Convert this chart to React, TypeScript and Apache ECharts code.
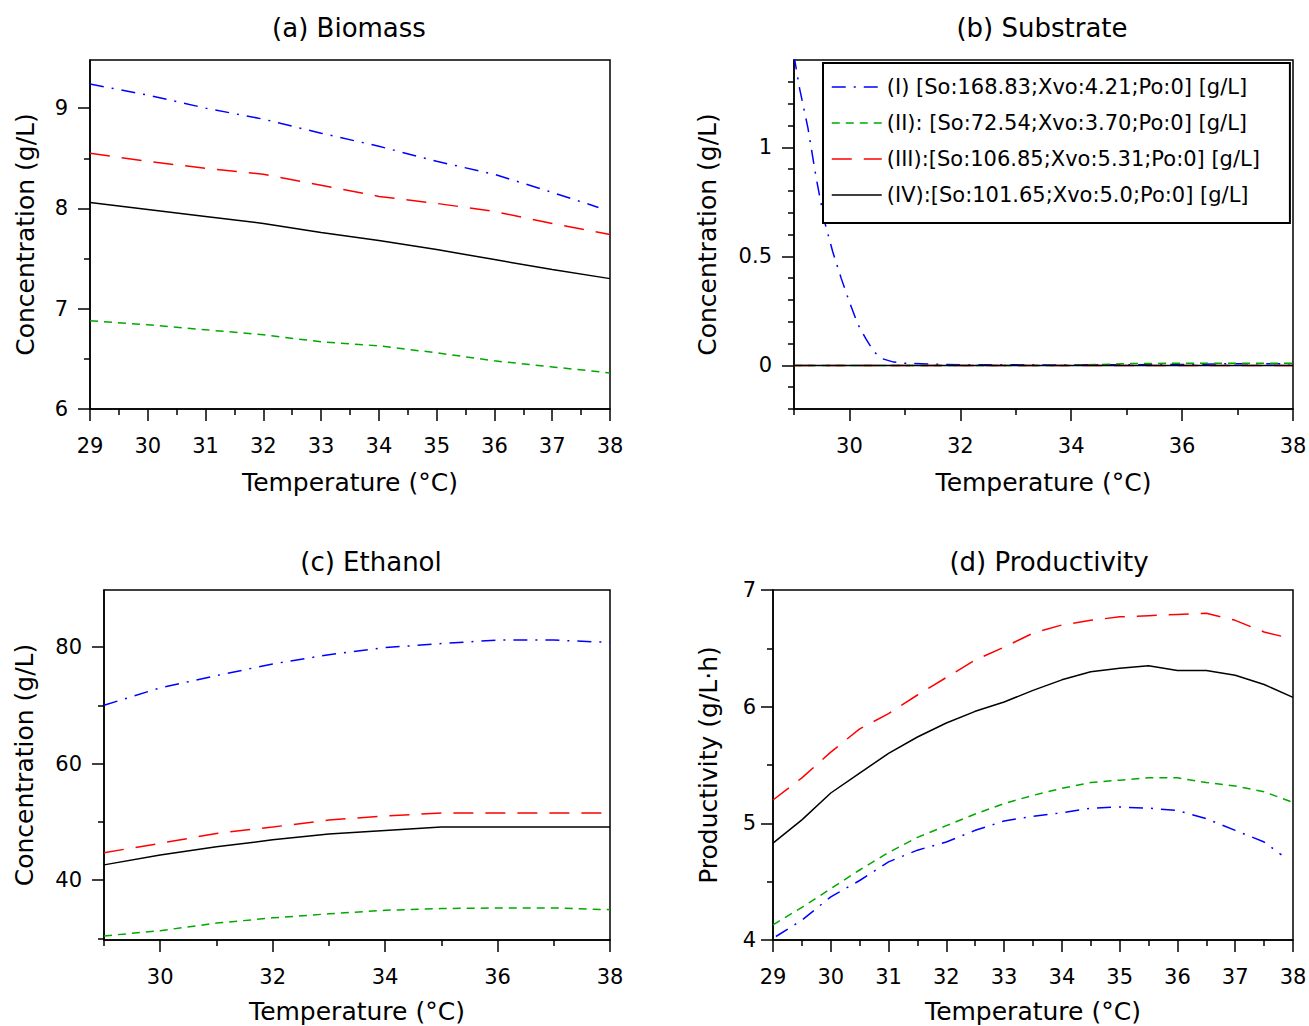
import React, { useEffect, useRef } from 'react';
import * as echarts from 'echarts';

const FONT = '"DejaVu Sans", "Liberation Sans", Arial, sans-serif';

const seriesNames = [
  '(I) [So:168.83;Xvo:4.21;Po:0] [g/L]',
  '(II): [So:72.54;Xvo:3.70;Po:0] [g/L]',
  '(III):[So:106.85;Xvo:5.31;Po:0] [g/L]',
  '(IV):[So:101.65;Xvo:5.0;Po:0] [g/L]',
];
const seriesColors = ['#0000ff', '#00a800', '#ff0000', '#000000'];
const seriesDashes: any[] = [[14, 8, 2, 8], [8, 6], [20, 12], 'solid'];

// (a) Biomass
const biomassTempI = [29, 30, 31, 32, 33, 34, 35, 36, 37, 37.8];
const biomassI = [9.24, 9.13, 9.0, 8.89, 8.75, 8.62, 8.47, 8.34, 8.16, 8.01];
const biomassTemp = [29, 30, 31, 32, 33, 34, 35, 36, 37, 38];
const biomassII = [6.88, 6.84, 6.79, 6.74, 6.67, 6.63, 6.56, 6.48, 6.42, 6.36];
const biomassIII = [8.55, 8.47, 8.4, 8.34, 8.23, 8.12, 8.05, 7.97, 7.85, 7.74];
const biomassIV = [8.06, 7.99, 7.92, 7.85, 7.76, 7.68, 7.59, 7.49, 7.39, 7.3];

// (b) Substrate
const substrateTempI = [29, 29.1, 29.25, 29.4, 29.55, 29.7, 29.85, 30, 30.15, 30.3, 30.45, 30.6, 30.8, 31, 31.5, 32, 34, 36, 37, 38];
const substrateI = [1.42, 1.27, 1.09, 0.86, 0.66, 0.52, 0.4, 0.29, 0.19, 0.12, 0.06, 0.03, 0.015, 0.01, 0.006, 0.003, 0.002, 0.004, 0.008, 0.008];
const substrateTemp = [29, 30, 31, 32, 33, 34, 35, 36, 37, 38];
const substrateII = [0, 0, 0, 0, 0, 0, 0.008, 0.01, 0.01, 0.01];
const substrateIII = [0, 0, 0, 0, 0, 0, 0, 0, 0, 0];
const substrateIV = [0, 0, 0, 0, 0, 0, 0, 0, 0, 0];

// (c) Ethanol
const ethanolTemp = [29, 30, 31, 32, 33, 34, 35, 36, 37, 38];
const ethanolI = [70.0, 73.0, 75.1, 77.1, 78.7, 79.9, 80.6, 81.2, 81.2, 80.8];
const ethanolII = [30.4, 31.3, 32.6, 33.5, 34.2, 34.8, 35.1, 35.2, 35.2, 34.9];
const ethanolIII = [44.7, 46.3, 48.0, 49.1, 50.3, 51.0, 51.5, 51.5, 51.5, 51.5];
const ethanolIV = [42.6, 44.3, 45.7, 46.9, 47.9, 48.5, 49.1, 49.1, 49.1, 49.1];

// (d) Productivity
const prodTempI = [29.05, 29.5, 30, 30.5, 31, 31.5, 32, 32.5, 33, 33.5, 34, 34.5, 35, 35.5, 36, 36.5, 37, 37.5, 37.8];
const prodI = [4.03, 4.17, 4.37, 4.51, 4.67, 4.77, 4.84, 4.94, 5.02, 5.06, 5.09, 5.13, 5.14, 5.13, 5.11, 5.04, 4.94, 4.84, 4.73];
const prodTemp = [29, 29.5, 30, 30.5, 31, 31.5, 32, 32.5, 33, 33.5, 34, 34.5, 35, 35.5, 36, 36.5, 37, 37.5, 38];
const prodII = [4.13, 4.28, 4.44, 4.6, 4.75, 4.88, 4.98, 5.08, 5.17, 5.24, 5.3, 5.35, 5.37, 5.39, 5.39, 5.35, 5.32, 5.27, 5.18];
const prodIII = [5.2, 5.39, 5.61, 5.81, 5.94, 6.1, 6.25, 6.4, 6.51, 6.63, 6.7, 6.74, 6.77, 6.78, 6.79, 6.8, 6.74, 6.64, 6.58];
const prodIV = [4.83, 5.03, 5.26, 5.43, 5.6, 5.74, 5.86, 5.96, 6.04, 6.14, 6.23, 6.3, 6.33, 6.35, 6.31, 6.31, 6.27, 6.19, 6.08];

// tick values
const ticksTempFull = [29, 30, 31, 32, 33, 34, 35, 36, 37, 38];
const ticksTempHalf = [29.5, 30.5, 31.5, 32.5, 33.5, 34.5, 35.5, 36.5, 37.5];
const ticksTempEven = [30, 32, 34, 36, 38];
const ticksTempOdd = [29, 31, 33, 35, 37];
const ticksBiomass = [6, 7, 8, 9];
const ticksBiomassMinor = [6.5, 7.5, 8.5];
const ticksSubstrate = [0, 0.5, 1];
const ticksSubstrateMinor = [-0.2, -0.1, 0.1, 0.2, 0.3, 0.4, 0.6, 0.7, 0.8, 0.9, 1.1, 1.2, 1.3];
const ticksEthanol = [40, 60, 80];
const ticksEthanolMinor = [30, 50, 70];
const ticksProd = [4, 5, 6, 7];
const ticksProdMinor = [4.5, 5.5, 6.5];

const titles = ['(a) Biomass', '(b) Substrate', '(c) Ethanol', '(d) Productivity'];
const xName = 'Temperature (°C)';
const yNames = ['Concentration (g/L)', 'Concentration (g/L)', 'Concentration (g/L)', 'Productivity (g/L·h)'];

const zip = (xs: number[], ys: number[]) => xs.map((x, i) => [x, ys[i]]);

const panels = [
  {
    grid: { left: 90, top: 60, width: 520, height: 349 },
    title: { x: 349, y: 28 },
    x: { min: 29, max: 38, major: ticksTempFull, minor: ticksTempHalf, margin: 26, nameGap: 61 },
    y: { min: 6, max: 9.48, major: ticksBiomass, minor: ticksBiomassMinor, margin: 22, nameGap: 52 },
    data: [zip(biomassTempI, biomassI), zip(biomassTemp, biomassII), zip(biomassTemp, biomassIII), zip(biomassTemp, biomassIV)],
  },
  {
    grid: { left: 794, top: 60, width: 499, height: 349 },
    title: { x: 1042, y: 28 },
    x: { min: 29, max: 38, major: ticksTempEven, minor: ticksTempOdd, margin: 26, nameGap: 61 },
    y: { min: -0.2, max: 1.4, major: ticksSubstrate, minor: ticksSubstrateMinor, margin: 22, nameGap: 74 },
    data: [zip(substrateTempI, substrateI), zip(substrateTemp, substrateII), zip(substrateTemp, substrateIII), zip(substrateTemp, substrateIV)],
  },
  {
    grid: { left: 104, top: 590, width: 506, height: 350 },
    title: { x: 371, y: 562 },
    x: { min: 29, max: 38, major: ticksTempEven, minor: ticksTempOdd, margin: 26, nameGap: 59 },
    y: { min: 29.7, max: 89.8, major: ticksEthanol, minor: ticksEthanolMinor, margin: 22, nameGap: 67 },
    data: [zip(ethanolTemp, ethanolI), zip(ethanolTemp, ethanolII), zip(ethanolTemp, ethanolIII), zip(ethanolTemp, ethanolIV)],
  },
  {
    grid: { left: 773, top: 590, width: 520, height: 350 },
    title: { x: 1049, y: 562 },
    x: { min: 29, max: 38, major: ticksTempFull, minor: ticksTempHalf, margin: 26, nameGap: 59 },
    y: { min: 4, max: 7, major: ticksProd, minor: ticksProdMinor, margin: 17, nameGap: 52 },
    data: [zip(prodTempI, prodI), zip(prodTemp, prodII), zip(prodTemp, prodIII), zip(prodTemp, prodIV)],
  },
];

function mainAxis(gridIndex: number, dim: 'x' | 'y', a: any, name: string) {
  return {
    type: 'value',
    gridIndex,
    min: a.min,
    max: a.max,
    position: dim === 'x' ? 'bottom' : 'left',
    name,
    nameLocation: 'middle',
    nameGap: a.nameGap,
    nameTextStyle: { fontSize: 25, color: '#000', fontFamily: FONT },
    axisLine: { show: true, onZero: false, lineStyle: { color: '#000', width: 1.5 } },
    axisTick: { show: true, inside: false, length: 12, customValues: a.major, lineStyle: { color: '#000', width: 1.5 } },
    axisLabel: { show: true, customValues: a.major, margin: a.margin, fontSize: 21, color: '#000', fontFamily: FONT },
    splitLine: { show: false },
    minorTick: { show: false },
  };
}

function minorAxis(gridIndex: number, dim: 'x' | 'y', a: any) {
  return {
    type: 'value',
    gridIndex,
    min: a.min,
    max: a.max,
    position: dim === 'x' ? 'bottom' : 'left',
    axisLine: { show: false, onZero: false },
    axisTick: { show: true, inside: false, length: 6, customValues: a.minor, lineStyle: { color: '#000', width: 1.5 } },
    axisLabel: { show: false },
    splitLine: { show: false },
  };
}

export default function App() {
  const ref = useRef<HTMLDivElement>(null);
  useEffect(() => {
    document.body.style.margin = '0';
    if (!ref.current) return;
    const chart = echarts.init(ref.current, undefined, { renderer: 'svg' });

    const grid: any[] = [];
    const xAxis: any[] = [];
    const yAxis: any[] = [];
    const series: any[] = [];
    const graphic: any[] = [];

    panels.forEach((p, i) => {
      grid.push({
        ...p.grid,
        show: true,
        borderColor: '#000',
        borderWidth: 1.5,
        backgroundColor: 'transparent',
        containLabel: false,
        outerBoundsMode: 'none',
      });
      xAxis.push(mainAxis(i, 'x', p.x, xName));
      xAxis.push(minorAxis(i, 'x', p.x));
      yAxis.push(mainAxis(i, 'y', p.y, yNames[i]));
      yAxis.push(minorAxis(i, 'y', p.y));
      p.data.forEach((d, k) => {
        series.push({
          type: 'line',
          name: seriesNames[k],
          xAxisIndex: 2 * i,
          yAxisIndex: 2 * i,
          data: d,
          symbol: 'none',
          showSymbol: false,
          clip: true,
          color: seriesColors[k],
          lineStyle: { color: seriesColors[k], width: 1.5, type: seriesDashes[k] },
          z: 2 + k,
        });
      });
      graphic.push({
        type: 'text',
        x: p.title.x,
        y: p.title.y,
        style: {
          text: titles[i],
          fontSize: 26,
          fontFamily: FONT,
          fill: '#000',
          align: 'center',
          verticalAlign: 'middle',
        },
      });
    });

    chart.setOption({
      animation: false,
      backgroundColor: '#fff',
      grid,
      xAxis,
      yAxis,
      series,
      graphic,
      legend: {
        show: true,
        data: seriesNames,
        orient: 'vertical',
        left: 823,
        top: 63,
        itemWidth: 50,
        itemHeight: 14,
        itemGap: 12,
        padding: [12, 30, 16, 8],
        backgroundColor: '#fff',
        borderColor: '#000',
        borderWidth: 2,
        selectedMode: false,
        itemStyle: { opacity: 0 },
        lineStyle: { width: 1.5 },
        textStyle: { fontSize: 21, color: '#000', fontFamily: FONT, lineHeight: 24 },
        z: 10,
      },
    });
    return () => chart.dispose();
  }, []);
  return <div ref={ref} style={{ width: 1309, height: 1026 }} />;
}
